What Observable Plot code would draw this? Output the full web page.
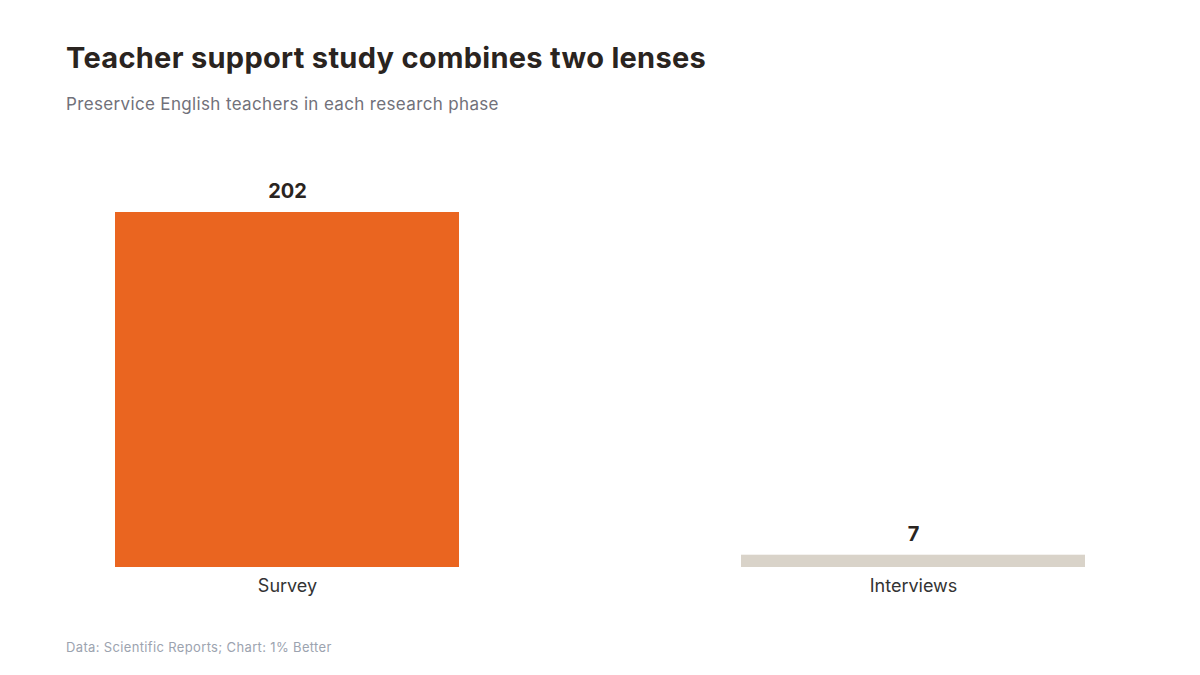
<!DOCTYPE html>
<html><head><meta charset="utf-8">
<script src="https://cdn.jsdelivr.net/npm/d3@7"></script>
<script src="https://cdn.jsdelivr.net/npm/@observablehq/plot@0.6"></script>
<style>
html,body{margin:0;padding:0;background:#fff;}
body{width:1200px;height:675px;position:relative;font-family:Inter,"Noto Sans",sans-serif;overflow:hidden;}
#title{position:absolute;left:66px;top:40px;font-size:29px;font-weight:700;color:#2a2420;letter-spacing:0.3px;}
#subtitle{position:absolute;left:66px;top:94px;font-size:17px;color:#71717a;letter-spacing:0.35px;}
#chart{position:absolute;left:0;top:141px;}
#caption{position:absolute;left:66px;top:639px;font-size:13px;color:#9ca3af;letter-spacing:0.35px;}
</style></head>
<body>
<div id="title">Teacher support study combines two lenses</div>
<div id="subtitle">Preservice English teachers in each research phase</div>
<div id="chart"></div>
<div id="caption">Data: Scientific Reports; Chart: 1% Better</div>
<script>
const phases = ["Survey", "Interviews"];
const teachers = [202, 7];
const barColors = ["#EA6520", "#D9D3C9"];
const data = phases.map((p, i) => ({phase: p, n: teachers[i], color: barColors[i]}));

const chart = Plot.plot({
  width: 1200,
  height: 480,
  marginLeft: 66,
  marginRight: 66,
  marginTop: 71,
  marginBottom: 54,
  style: {fontFamily: "Inter, 'Noto Sans', sans-serif", background: "#fff"},
  x: {domain: phases, paddingInner: 0.45, paddingOuter: 0.078, label: null, tickSize: 0, tickPadding: 12},
  y: {domain: [0, 202], axis: null},
  marks: [
    Plot.barY(data, {x: "phase", y: "n", fill: "color"}),
    Plot.text(data, {x: "phase", y: "n", text: d => String(d.n), dy: -21, fontSize: 20, fontWeight: 700, fill: "#2a2420"}),
    Plot.axisX({tickSize: 0, tickPadding: 12, fontSize: 18, color: "#333", label: null})
  ]
});
chart.querySelectorAll('[aria-label="x-axis tick label"] text').forEach(t => { t.setAttribute("fill", "#333"); });
document.getElementById("chart").appendChild(chart);
</script>
</body></html>
